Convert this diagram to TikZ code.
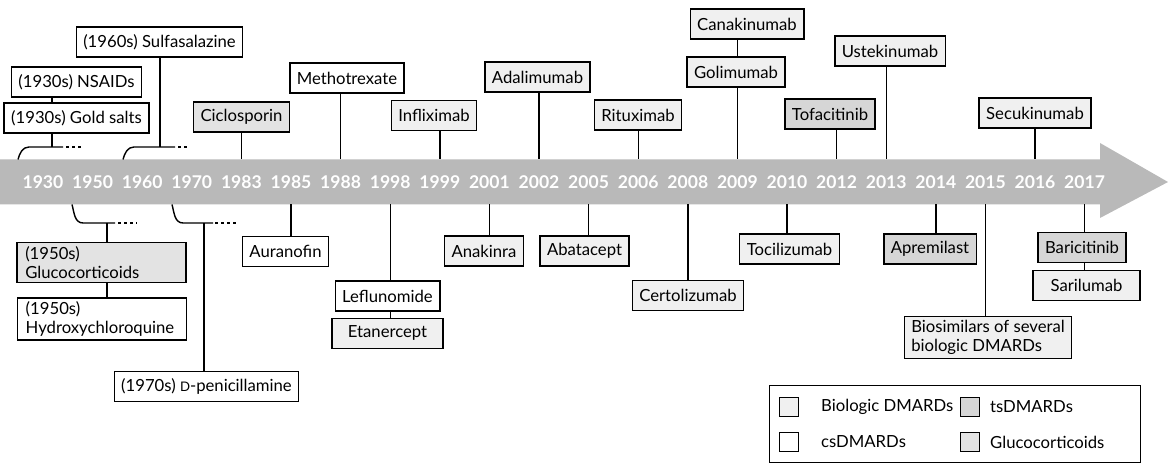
\documentclass[tikz,border=0pt]{standalone}
\usepackage{fontspec}
\setmainfont{Lato}
\usetikzlibrary{positioning}

\tikzset{
  drug/.style={draw,line width=0.8pt,inner xsep=4pt,inner ysep=2pt,minimum height=0.6cm,font=\fontsize{9.5}{11}\selectfont},
  cs/.style={drug,fill=white},
  bio/.style={drug,fill=gray!12},
  tsd/.style={drug,fill=gray!32},
  gcs/.style={drug,fill=gray!22},
  yearlbl/.style={text=white,font=\bfseries\fontsize{10}{11}\selectfont},
  link/.style={line width=0.8pt},
  dots/.style={line width=0.8pt,dash pattern=on 1.5pt off 2pt},
  key/.style={draw,line width=0.7pt,minimum size=0.38cm,inner sep=0pt},
  keytext/.style={anchor=west,font=\fontsize{9.5}{11}\selectfont}
}

\begin{document}
\begin{tikzpicture}
\useasboundingbox (0,3.64) rectangle (23.36,-5.64);
% the time arrow
\fill[gray!55] (0,0.45) -- (22,0.45) -- (22,0.78) -- (23.36,0) -- (22,-0.72) -- (22,-0.45) -- (0,-0.45) -- cycle;
\foreach \yr [count=\i from 0] in {1930,1950,1960,1970,1983,1985,1988,1998,1999,2001,2002,2005,2006,2008,2009,2010,2012,2013,2014,2015,2016,2017} {
  \node[yearlbl] (y\i) at ({0.86+0.992*\i},0) {\yr};
  \coordinate (t\i) at ({0.86+0.992*\i},0.45);
  \coordinate (b\i) at ({0.86+0.992*\i},-0.45);
}

% above the arrow
\node[cs] (nsa) at (1.53,2.0) {(1930s) NSAIDs};
\node[cs] (gold) at (1.53,1.28) {(1930s) Gold salts};
\node[cs] (sulf) at (3.19,2.8) {(1960s) Sulfasalazine};
\node[gcs] (cic) at (4.83,1.3) {Ciclosporin};
\node[cs] (mtx) at (6.94,2.08) {Methotrexate};
\node[bio] (inf) at (8.68,1.33) {Infliximab};
\node[bio] (ada) at (10.75,2.1) {Adalimumab};
\node[bio] (rit) at (12.76,1.34) {Rituximab};
\node[bio] (can) at (14.94,3.16) {Canakinumab};
\node[bio] (gol) at (14.72,2.2) {Golimumab};
\node[tsd] (tof) at (16.6,1.36) {Tofacitinib};
\node[bio] (ust) at (17.8,2.62) {Ustekinumab};
\node[bio] (sec) at (20.7,1.38) {Secukinumab};

% below the arrow
\node[gcs,align=left,minimum width=3.38cm,text width=3.05cm] (gcc) at (2.03,-1.61) {(1950s)\\Glucocorticoids};
\node[cs,align=left,minimum width=3.38cm,text width=3.05cm] (hcq) at (2.04,-2.74) {(1950s)\\Hydroxychloroquine};
\node[cs] (pen) at (4.13,-4.09) {(1970s) {\fontsize{7.5}{9}\selectfont D}-penicillamine};
\node[cs] (aur) at (5.71,-1.39) {Auranofin};
\node[cs] (lef) at (7.75,-2.28) {Leflunomide};
\node[bio,below=0.12 of lef,minimum width=2.22cm] (eta) {Etanercept};
\node[bio] (ana) at (9.68,-1.38) {Anakinra};
\node[bio] (aba) at (11.69,-1.38) {Abatacept};
\node[bio] (cer) at (13.76,-2.27) {Certolizumab};
\node[bio] (toc) at (15.79,-1.34) {Tocilizumab};
\node[tsd] (apr) at (18.6,-1.34) {Apremilast};
\node[bio,align=left] (bsim) at (19.76,-3.11) {Biosimilars of several\\biologic DMARDs};
\node[tsd] (bar) at (21.64,-1.31) {Baricitinib};
\node[bio,minimum width=2.14cm] (sar) at (21.73,-2.07) {Sarilumab};

% decade brackets
\coordinate (br1) at (1.04,0.7);
\coordinate (br2) at (3.2,0.7);
\coordinate (br3) at (2.14,-0.82);
\coordinate (br4) at (4.08,-0.82);
\draw[link] (0.36,0.45) to[out=75,in=180] (0.58,0.7) -- (1.26,0.7);
\draw[dots] (1.32,0.7) -- (1.66,0.7);
\draw[link] (2.46,0.45) to[out=75,in=180] (2.68,0.7) -- (3.5,0.7);
\draw[dots] (3.56,0.7) -- (3.76,0.7);
\draw[link] (1.44,-0.45) to[out=-75,in=180] (1.66,-0.82) -- (2.3,-0.82);
\draw[dots] (2.36,-0.82) -- (2.74,-0.82);
\draw[link] (3.44,-0.45) to[out=-75,in=180] (3.66,-0.82) -- (4.26,-0.82);
\draw[dots] (4.3,-0.82) -- (4.74,-0.82);

% connectors
\draw[link] (br1 |- nsa.south) -- (br1 |- gold.north);
\draw[link] (br1 |- gold.south) -- (br1);
\draw[link] (br2 |- sulf.south) -- (br2);
\draw[link] (t4 |- cic.south) -- (t4);
\draw[link] (t6 |- mtx.south) -- (t6);
\draw[link] (t8 |- inf.south) -- (t8);
\draw[link] (t10 |- ada.south) -- (t10);
\draw[link] (t12 |- rit.south) -- (t12);
\draw[link] (t14 |- can.south) -- (t14 |- gol.north);
\draw[link] (t14 |- gol.south) -- (t14);
\draw[link] (t16 |- tof.south) -- (t16);
\draw[link] (t17 |- ust.south) -- (t17);
\draw[link] (t20 |- sec.south) -- (t20);
\draw[link] (br3) -- (br3 |- gcc.north);
\draw[link] (br3 |- gcc.south) -- (br3 |- hcq.north);
\draw[link] (br4) -- (br4 |- pen.north);
\draw[link] (b5) -- (b5 |- aur.north);
\draw[link] (b7) -- (b7 |- lef.north);
\draw[link] (b7 |- lef.south) -- (b7 |- eta.north);
\draw[link] (b9) -- (b9 |- ana.north);
\draw[link] (b11) -- (b11 |- aba.north);
\draw[link] (b13) -- (b13 |- cer.north);
\draw[link] (b15) -- (b15 |- toc.north);
\draw[link] (b18) -- (b18 |- apr.north);
\draw[link] (b19) -- (b19 |- bsim.north);
\draw[link] (b21) -- (b21 |- bar.north);
\draw[link] (b21 |- bar.south) -- (b21 |- sar.north);

% legend
\node[draw,line width=0.8pt,minimum width=7.42cm,minimum height=1.54cm,anchor=north west] (leg) at (15.38,-4.06) {};
\node[key,fill=gray!12] (kbio) at (15.78,-4.5) {};
\node[keytext] (lbio) at (16.3,-4.5) {Biologic DMARDs};
\node[key,fill=gray!32] (kts) at (19.4,-4.5) {};
\node[keytext] (lts) at (19.68,-4.5) {tsDMARDs};
\node[key,fill=white] (kcs) at (15.78,-5.2) {};
\node[keytext] (lcs) at (16.3,-5.2) {csDMARDs};
\node[key,fill=gray!22] (kgc) at (19.4,-5.2) {};
\node[keytext] (lgc) at (19.68,-5.2) {Glucocorticoids};
\end{tikzpicture}
\end{document}
